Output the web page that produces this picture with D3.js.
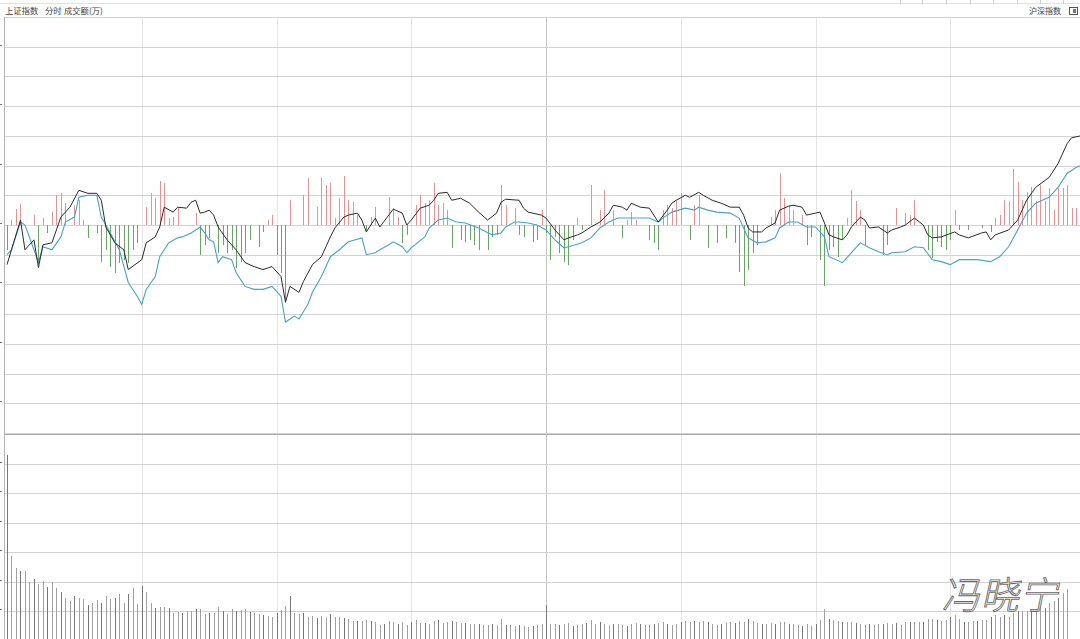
<!DOCTYPE html>
<html>
<head>
<meta charset="utf-8">
<script src="https://cdn.jsdelivr.net/npm/d3@7"></script>
<style>
  html, body { margin: 0; padding: 0; background: #fff; overflow: hidden; }
  svg { display: block; }
</style>
</head>
<body>
<svg id="chart" width="1080" height="639"></svg>
<script>
// 上证指数 分时 — minute index 0 = 09:30, 240 = 15:00
const prevClose = 2980
const priceStep = 3
const volStep = 30

// 加权指数 (black) [minute, level]
const priceLine = [[0, 2976.0], [1, 2977.5], [3, 2980.5], [4, 2977.5], [6, 2978.5], [7, 2975.7], [8, 2978.0], [10, 2978.2],
    [11, 2979.5], [12, 2980.8], [14, 2981.8], [16, 2983.5], [18, 2983.2], [20, 2983.2], [21, 2982.5], [22, 2979.8],
    [24, 2978.2], [26, 2977.5], [27, 2975.5], [30, 2976.5], [31, 2978.2], [33, 2978.8], [34, 2979.8], [35, 2981.8],
    [37, 2981.3], [38, 2981.8], [40, 2981.7], [41, 2982.3], [42, 2982.5], [43, 2981.2], [44, 2981.3], [45, 2981.5],
    [46, 2981.0], [47, 2979.8], [49, 2978.5], [51, 2977.5], [53, 2976.2], [55, 2975.8], [57, 2975.5], [59, 2975.8],
    [61, 2974.8], [62, 2972.2], [63, 2973.8], [65, 2973.2], [66, 2974.3], [68, 2976.0], [70, 2976.8], [71, 2977.8],
    [72, 2978.8], [73, 2979.7], [75, 2980.8], [76, 2981.0], [78, 2981.2], [79, 2980.5], [80, 2979.3], [82, 2980.7],
    [83, 2979.8], [85, 2981.0], [86, 2981.6], [88, 2981.2], [89, 2980.0], [90, 2980.5], [92, 2981.7], [94, 2982.0],
    [95, 2982.5], [96, 2983.2], [98, 2983.3], [99, 2982.5], [101, 2982.7], [103, 2982.2], [105, 2981.3], [107, 2980.5],
    [109, 2981.2], [110, 2982.3], [111, 2982.6], [114, 2982.5], [115, 2981.7], [116, 2981.3], [119, 2981.0], [120, 2980.7],
    [122, 2979.5], [124, 2978.5], [125, 2978.7], [127, 2979.0], [128, 2979.2], [130, 2979.8], [132, 2980.3], [134, 2981.2],
    [135, 2982.0], [137, 2981.8], [138, 2981.5], [139, 2982.2], [141, 2981.8], [143, 2981.7], [144, 2981.0], [145, 2980.3],
    [147, 2981.5], [148, 2982.2], [149, 2982.5], [151, 2983.0], [152, 2982.8], [154, 2983.3], [155, 2983.0], [157, 2982.5],
    [159, 2982.2], [161, 2981.8], [163, 2981.8], [164, 2981.0], [165, 2979.7], [166, 2979.3], [168, 2979.3], [169, 2979.7],
    [171, 2980.2], [172, 2981.5], [174, 2981.9], [175, 2982.0], [177, 2981.8], [178, 2981.0], [180, 2981.2], [181, 2981.3],
    [182, 2980.2], [183, 2979.0], [184, 2978.8], [186, 2978.5], [187, 2979.0], [188, 2979.8], [190, 2980.8], [191, 2980.5],
    [192, 2979.7], [194, 2979.8], [196, 2979.2], [197, 2979.5], [199, 2979.8], [200, 2980.0], [202, 2980.7], [204, 2980.0],
    [205, 2979.0], [206, 2978.7], [208, 2978.8], [211, 2979.3], [212, 2979.0], [214, 2978.7], [217, 2979.2], [218, 2979.3],
    [219, 2978.5], [220, 2979.0], [223, 2979.5], [225, 2980.5], [227, 2982.5], [229, 2983.8], [232, 2984.8], [234, 2986.2],
    [236, 2988.2], [237, 2988.8], [239, 2989.0]]

// 不含加权指数 (blue) [minute, level]
const avgLine = [[0, 2977.0], [1, 2977.5], [3, 2980.3], [4, 2980.0], [6, 2977.5], [7, 2976.2], [8, 2977.8], [10, 2977.5],
    [12, 2978.8], [13, 2980.3], [15, 2980.8], [16, 2982.8], [18, 2983.0], [20, 2983.0], [21, 2980.8], [23, 2979.2],
    [25, 2977.5], [27, 2974.2], [29, 2972.8], [30, 2972.0], [31, 2973.5], [33, 2974.8], [34, 2976.8], [36, 2978.2],
    [38, 2978.7], [39, 2978.8], [41, 2979.2], [43, 2979.8], [44, 2979.2], [45, 2978.5], [46, 2978.3], [47, 2976.2],
    [48, 2976.8], [50, 2976.5], [51, 2975.2], [53, 2973.8], [55, 2973.5], [57, 2973.5], [59, 2973.8], [61, 2972.8],
    [62, 2970.2], [64, 2970.8], [65, 2970.5], [67, 2972.0], [68, 2973.2], [70, 2974.8], [72, 2976.8], [74, 2977.5],
    [76, 2978.3], [79, 2978.7], [80, 2977.0], [82, 2977.2], [83, 2977.5], [85, 2978.0], [86, 2978.3], [88, 2977.8],
    [89, 2977.2], [90, 2977.7], [93, 2978.8], [94, 2979.7], [96, 2980.5], [98, 2980.7], [100, 2980.3], [102, 2980.2],
    [105, 2979.7], [108, 2979.0], [110, 2979.2], [111, 2979.8], [113, 2980.3], [114, 2980.3], [116, 2980.2], [118, 2980.0],
    [120, 2979.5], [122, 2978.5], [124, 2977.7], [125, 2977.8], [128, 2978.2], [130, 2978.7], [132, 2979.7], [134, 2980.3],
    [136, 2980.7], [138, 2980.7], [140, 2980.7], [143, 2980.7], [145, 2980.3], [146, 2980.7], [148, 2981.3], [151, 2981.7],
    [153, 2981.5], [154, 2981.8], [156, 2981.5], [158, 2981.3], [161, 2981.2], [163, 2980.7], [165, 2978.7], [167, 2978.2],
    [169, 2978.3], [171, 2978.7], [172, 2979.7], [174, 2980.3], [176, 2980.3], [178, 2979.8], [180, 2979.8], [182, 2978.8],
    [183, 2976.8], [186, 2976.2], [188, 2977.2], [190, 2978.2], [192, 2977.7], [194, 2977.3], [196, 2977.0], [197, 2977.2],
    [200, 2977.3], [202, 2977.8], [204, 2977.7], [206, 2976.5], [208, 2976.3], [210, 2976.0], [212, 2976.5], [214, 2976.5],
    [216, 2976.5], [219, 2976.3], [221, 2976.8], [223, 2977.8], [225, 2979.5], [227, 2981.2], [229, 2982.2], [232, 2982.8],
    [234, 2983.8], [236, 2985.2], [238, 2985.8], [239, 2986.0]]

// 红绿柱 [minute, strength in points]
const strength = [[0, -2.5], [1, 0.5], [2, 1.6], [3, 2.1], [6, 1.0], [7, -3.8], [8, 0.7], [9, -0.8], [10, 1.3], [11, 3.0],
    [12, 3.2], [13, 2.2], [15, 2.0], [16, 2.5], [17, 0.5], [18, -1.3], [20, -0.8], [21, -3.7], [22, -2.5], [23, -4.2],
    [24, -4.8], [25, -3.8], [26, -3.5], [27, -3.8], [28, -2.5], [29, -1.8], [31, 1.8], [32, 3.2], [33, 2.7], [34, 4.4],
    [35, 4.2], [36, 0.7], [37, 0.8], [38, 1.7], [42, 1.2], [43, -3.0], [44, -2.0], [45, -1.3], [47, -2.8], [48, -2.0],
    [49, -2.8], [50, -2.5], [51, -4.3], [52, -3.7], [53, -2.8], [54, -1.5], [56, -2.2], [57, -0.7], [58, 0.5], [59, 1.0],
    [60, -3.0], [61, -4.8], [62, -7.8], [63, 2.5], [66, 3.0], [67, 4.7], [69, 1.8], [70, 4.7], [71, 4.0], [72, 4.2],
    [73, 0.7], [74, 2.7], [75, 4.9], [76, 2.5], [77, 2.3], [78, 1.0], [80, -0.7], [81, 0.8], [82, 1.8], [85, 2.8],
    [86, 1.7], [87, 0.8], [88, -1.8], [89, -1.0], [91, 2.0], [92, 3.0], [93, 2.2], [94, 2.5], [95, 4.2], [96, 2.0],
    [97, 2.2], [98, 1.5], [99, -2.3], [101, -1.5], [102, -1.7], [103, -1.5], [104, -2.0], [105, -2.5], [107, -2.5], [108, -1.2],
    [109, -1.0], [110, 4.0], [111, 2.0], [113, 1.7], [114, -1.0], [115, -1.2], [117, -1.7], [118, -1.5], [119, 1.5], [120, -0.8],
    [121, -3.5], [122, -1.2], [123, -2.8], [124, -3.7], [125, -4.0], [126, -1.5], [127, 0.7], [128, -0.5], [130, 4.0], [132, 1.5],
    [133, 3.5], [135, 1.5], [137, -1.3], [138, 0.5], [139, 1.3], [140, 0.5], [143, -1.5], [144, -1.8], [145, -2.5], [146, 1.5],
    [147, 2.0], [148, 1.7], [149, 2.5], [150, 3.2], [152, -1.5], [153, 2.0], [154, 3.0], [156, -2.3], [158, -1.8], [160, -1.3],
    [162, -1.8], [163, -4.7], [164, -6.2], [165, -4.5], [166, -2.8], [167, -2.0], [170, 0.8], [171, 1.5], [172, 5.3], [173, 2.7],
    [174, 2.0], [175, 1.5], [177, 1.0], [178, -2.0], [179, -1.2], [181, -3.5], [182, -6.2], [183, -2.5], [184, -2.2], [185, -3.2],
    [186, -1.5], [187, 0.7], [188, 3.5], [189, 2.4], [190, 1.5], [191, -2.0], [195, -3.0], [196, -2.0], [198, 1.7], [200, 1.2],
    [201, 1.0], [202, 2.5], [205, -2.5], [206, -3.3], [207, -1.7], [208, -2.2], [209, -2.5], [210, -1.5], [211, 1.5], [212, -0.5],
    [214, -0.5], [217, -0.3], [219, -0.7], [220, 0.7], [221, 1.0], [222, 2.5], [223, 2.3], [224, 5.7], [225, 4.3], [226, 2.5],
    [227, 3.3], [228, 3.8], [229, 2.4], [230, 4.0], [231, 2.4], [232, 3.7], [233, 1.5], [234, 3.7], [235, 3.7], [236, 4.0],
    [237, 1.7], [238, 1.7]]

// 成交额 per minute (千万), from 09:30
const volume = [189, 86, 74, 71, 71, 60, 63, 58, 61, 55, 60, 54, 50, 44, 41, 46, 44, 43, 37, 39,
    42, 39, 46, 43, 44, 48, 39, 48, 54, 38, 56, 50, 39, 33, 34, 35, 33, 28, 29, 28,
    30, 30, 32, 32, 27, 28, 28, 34, 30, 27, 32, 30, 31, 32, 29, 28, 27, 26, 25, 24,
    28, 31, 36, 46, 28, 27, 28, 24, 25, 23, 25, 23, 27, 24, 24, 23, 22, 20, 20, 20,
    21, 20, 19, 16, 17, 20, 19, 17, 19, 16, 19, 21, 18, 18, 17, 20, 21, 18, 19, 20,
    19, 18, 18, 17, 17, 17, 16, 16, 17, 15, 22, 16, 16, 15, 16, 15, 14, 15, 16, 17,
    37, 17, 17, 16, 17, 18, 15, 16, 17, 18, 21, 17, 19, 17, 15, 17, 17, 16, 15, 17,
    18, 17, 16, 16, 17, 18, 19, 17, 16, 17, 19, 20, 19, 20, 19, 20, 19, 17, 16, 17,
    18, 19, 18, 20, 19, 22, 20, 18, 17, 17, 18, 17, 19, 19, 17, 17, 16, 15, 17, 15,
    17, 21, 32, 22, 21, 20, 19, 19, 19, 18, 17, 16, 17, 16, 17, 17, 18, 17, 18, 16,
    19, 19, 19, 19, 19, 22, 22, 21, 20, 21, 24, 26, 22, 19, 19, 20, 20, 21, 21, 24,
    26, 24, 26, 24, 28, 30, 30, 30, 31, 32, 34, 33, 39, 41, 44, 49, 53]

const timeTicks = [30, 60, 90, 120, 150, 180, 210]
const headerLeft = [['上证指数', 5], ['分时', 45], ['成交额(万)', 64]]
const headerRight = '沪深指数'
const watermark = '冯晓宁'

const W = 1080
const svg = d3.select('#chart')

const x = d3.scaleLinear().domain([0, 240]).range([7, 1085])
const y = d3.scaleLinear()
    .domain([prevClose - 7 * priceStep, prevClose + 7 * priceStep])
    .range([433, 17])
const yVol = d3.scaleLinear().domain([0, 7 * volStep]).range([641, 434])
const px = v => Math.round(v) + 0.5

// header strip
svg.append('line')
    .attr('x1', 0).attr('x2', W).attr('y1', 3.5).attr('y2', 3.5)
    .attr('stroke', '#e2e2e2')
svg.append('g').selectAll('line')
    .data([900, 922, 946, 970, 993, 1017, 1040, 1063])
    .enter().append('line')
    .attr('x1', d => d + 0.5).attr('x2', d => d + 0.5)
    .attr('y1', 0).attr('y2', 4)
    .attr('stroke', '#cfcfcf')
svg.append('g').selectAll('text')
    .data(headerLeft)
    .enter().append('text')
    .text(d => d[0])
    .attr('x', d => d[1])
    .attr('y', 14)
    .attr('font-size', '8.3px')
    .attr('font-family', '"Noto Sans CJK SC", sans-serif')
    .attr('fill', '#444')
svg.append('text')
    .text(headerRight)
    .attr('x', 1061)
    .attr('y', 14)
    .attr('text-anchor', 'end')
    .attr('font-size', '8px')
    .attr('font-family', '"Noto Sans CJK SC", sans-serif')
    .attr('fill', '#444')
svg.append('rect')
    .attr('x', 1069.5).attr('y', 7.5).attr('width', 8).attr('height', 7)
    .attr('fill', 'none').attr('stroke', '#555')
svg.append('rect')
    .attr('x', 1073).attr('y', 9).attr('width', 3).attr('height', 4)
    .attr('fill', '#777')

// grid
const grid = svg.append('g').attr('shape-rendering', 'crispEdges')
grid.selectAll('.vgrid')
    .data(timeTicks)
    .enter().append('line')
    .attr('class', 'vgrid')
    .attr('x1', d => px(x(d))).attr('x2', d => px(x(d)))
    .attr('y1', 17).attr('y2', 639)
    .attr('stroke', d => d === 120 ? '#c4c4c4' : '#e6e6e6')
grid.selectAll('.hgrid')
    .data(d3.range(-7, 8).map(k => prevClose + k * priceStep))
    .enter().append('line')
    .attr('class', 'hgrid')
    .attr('x1', 5).attr('x2', W)
    .attr('y1', d => px(y(d))).attr('y2', d => px(y(d)))
    .attr('stroke', '#d3d3d3')
grid.selectAll('.hgridVol')
    .data(d3.range(1, 8).map(k => k * volStep))
    .enter().append('line')
    .attr('class', 'hgridVol')
    .attr('x1', 5).attr('x2', W)
    .attr('y1', d => px(yVol(d))).attr('y2', d => px(yVol(d)))
    .attr('stroke', d => d === 7 * volStep ? '#a8a8a8' : '#d3d3d3')
grid.append('line')
    .attr('x1', 4.5).attr('x2', 4.5).attr('y1', 17).attr('y2', 639)
    .attr('stroke', '#b4b4b4')

// the axis labels sit off the left edge in the screenshot; only their last pixel shows
grid.append('g').selectAll('line')
    .data(d3.range(-3, 4).map(k => y(prevClose + 2 * k * priceStep))
        .concat(d3.range(1, 7).map(k => yVol(k * volStep))))
    .enter().append('line')
    .attr('x1', 0).attr('x2', 2)
    .attr('y1', d => Math.round(d) - 2).attr('y2', d => Math.round(d) - 2)
    .attr('stroke', '#777')

// volume bars
svg.append('g').attr('shape-rendering', 'crispEdges').selectAll('line')
    .data(volume)
    .enter().append('line')
    .attr('x1', (d, i) => px(x(i))).attr('x2', (d, i) => px(x(i)))
    .attr('y1', yVol(0)).attr('y2', d => yVol(d))
    .attr('stroke', (d, i) => i % 3 === 0 ? '#777' : '#a0a0a0')
    .attr('stroke-width', 1)

// red / green strength bars
svg.append('g').attr('shape-rendering', 'crispEdges').selectAll('line')
    .data(strength)
    .enter().append('line')
    .attr('x1', d => px(x(d[0]))).attr('x2', d => px(x(d[0])))
    .attr('y1', y(prevClose)).attr('y2', d => y(prevClose + d[1]))
    .attr('stroke', d => d[1] > 0 ? '#e29494' : '#6aa466')
    .attr('stroke-width', 1)

// index lines
const line = d3.line().x(d => x(d[0])).y(d => y(d[1]))
svg.append('path')
    .datum(avgLine)
    .attr('d', line)
    .attr('fill', 'none')
    .attr('stroke', '#45a3c8')
    .attr('stroke-width', 1.1)
svg.append('path')
    .datum(priceLine)
    .attr('d', line)
    .attr('fill', 'none')
    .attr('stroke', '#2a2a2a')
    .attr('stroke-width', 1)

// watermark
svg.append('text')
    .text(watermark)
    .attr('transform', 'translate(942,609) skewX(-12)')
    .attr('font-size', '38px')
    .attr('font-family', '"Noto Sans CJK SC", sans-serif')
    .attr('font-weight', 300)
    .attr('letter-spacing', '1px')
    .attr('fill', '#fff')
    .attr('stroke', '#666')
    .attr('stroke-width', 0.9)
</script>
</body>
</html>
